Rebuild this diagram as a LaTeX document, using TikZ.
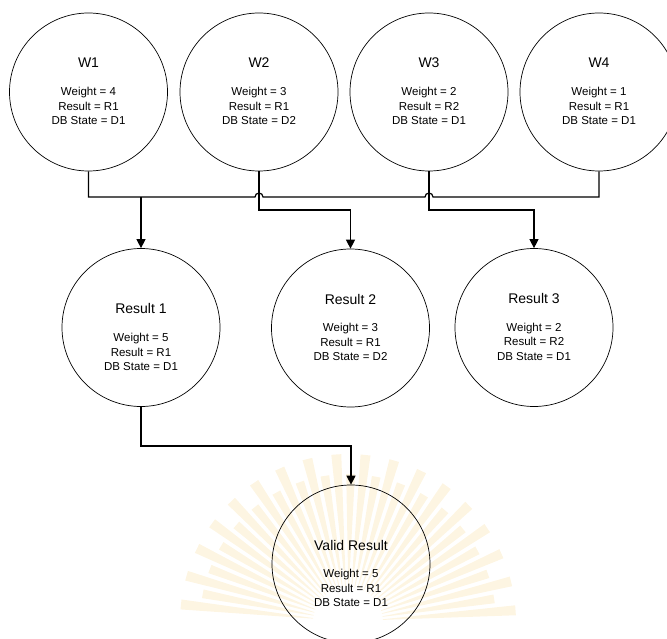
\documentclass[tikz,border=0pt]{standalone}
\usepackage{fontspec}
\setmainfont{Liberation Sans}
\usetikzlibrary{arrows.meta}
\definecolor{wmark}{RGB}{253,245,226}
\tikzset{
  x=1pt, y=1pt,
  ball/.style={circle, draw, line width=0.7pt, minimum size=158pt, inner sep=0pt},
  head/.style={font=\fontsize{14}{16}\selectfont, inner sep=0pt},
  body/.style={font=\fontsize{11.5}{14.5}\selectfont, align=center, inner sep=0pt},
  wire/.style={line width=1.2pt},
  feed/.style={wire, -{Triangle[width=9pt,length=9pt]}},
  ray/.style={fill=wmark}
}
% #1 name, #2 centre, #3 title offset, #4 body offset, #5 title, #6 body lines
\newcommand\bubble[6]{%
  \node[ball] (#1) at (#2) {};
  \node[head] (#1-t) at ([yshift=#3]#1.center) {#5};
  \node[body] (#1-b) at ([yshift=#4]#1.center) {#6};
}
\begin{document}
\begin{tikzpicture}
  \clip (0,0) rectangle (667,-639);

  % faint sunburst seal in the lower part
  \begin{scope}[shift={(348,-622)}]
    \foreach \a [count=\i] in {4,9,...,176} {
      \pgfmathsetmacro\len{mod(\i,2)==0 ? 148 : 168}
      \fill[ray] (\a-0.5:35) -- (\a-1.7:\len) -- (\a+1.7:\len) -- (\a+0.5:35) -- cycle;
    }
  \end{scope}

  % workers
  \bubble{w1}{88.5,-92}{29pt}{-14pt}{W1}{Weight = 4\\Result = R1\\DB State = D1}
  \bubble{w2}{259,-92}{29pt}{-14pt}{W2}{Weight = 3\\Result = R1\\DB State = D2}
  \bubble{w3}{429,-92}{29pt}{-14pt}{W3}{Weight = 2\\Result = R2\\DB State = D1}
  \bubble{w4}{599,-92}{29pt}{-14pt}{W4}{Weight = 1\\Result = R1\\DB State = D1}

  % grouped results
  \bubble{r1}{141,-327.5}{19.5pt}{-24.5pt}{Result 1}{Weight = 5\\Result = R1\\DB State = D1}
  \bubble{r2}{350.5,-328}{29pt}{-14pt}{Result 2}{Weight = 3\\Result = R1\\DB State = D2}
  \bubble{r3}{534,-327.5}{29pt}{-14pt}{Result 3}{Weight = 2\\Result = R2\\DB State = D1}

  % final answer
  \bubble{v}{351,-564}{19pt}{-24pt}{Valid Result}{Weight = 5\\Result = R1\\DB State = D1}

  % bus levels
  \coordinate (bus) at (0,-197);
  \coordinate (b2) at (0,-210);
  \coordinate (b3) at (0,-446);

  % W1 and W4 merge into Result 1, hopping over the W2 and W3 stems
  \draw[wire] (w1.south) -- (w1.south |- bus)
    -- ([xshift=-4pt]w2.south |- bus) arc[start angle=180, end angle=0, radius=4pt]
    -- ([xshift=-4pt]w3.south |- bus) arc[start angle=180, end angle=0, radius=4pt]
    -- (w4.south |- bus) -- (w4.south);
  \draw[feed] (r1.north |- bus) -- (r1.north);

  \draw[feed] (w2.south) -- (w2.south |- b2) -| (r2.north);
  \draw[feed] (w3.south) -- (w3.south |- b2) -| (r3.north);
  \draw[feed] (r1.south) -- (r1.south |- b3) -| (v.north);
\end{tikzpicture}
\end{document}
